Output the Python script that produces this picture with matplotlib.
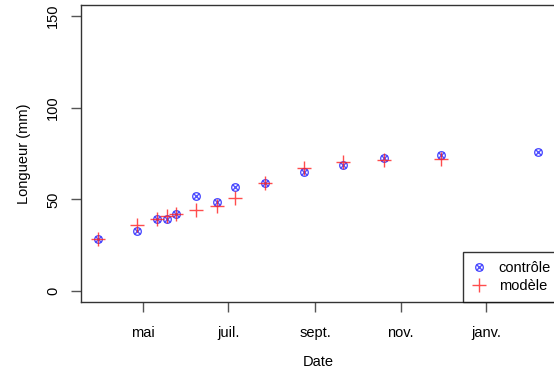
import datetime as dt
import matplotlib
matplotlib.use("Agg")
import matplotlib.pyplot as plt
from matplotlib.legend_handler import HandlerTuple

plt.rcParams['font.family'] = ['Liberation Sans', 'DejaVu Sans']

# dates of the measurements
dates = [dt.date(2021, 3, 30), dt.date(2021, 4, 27), dt.date(2021, 5, 11),
         dt.date(2021, 5, 18), dt.date(2021, 5, 25), dt.date(2021, 6, 8),
         dt.date(2021, 6, 23), dt.date(2021, 7, 6), dt.date(2021, 7, 27),
         dt.date(2021, 8, 24), dt.date(2021, 9, 21), dt.date(2021, 10, 20),
         dt.date(2021, 11, 30), dt.date(2022, 2, 7)]
controle = [28.4, 32.7, 39.1, 39.1, 41.8, 51.8, 48.7, 56.9, 58.7, 65.1,
            68.7, 72.4, 74.2, 76.0]
modele_dates = dates[:13]
modele = [28.2, 36.2, 39.1, 41.0, 42.0, 44.2, 46.4, 50.9, 58.7, 66.9,
          70.5, 71.5, 71.8]

tick_dates = [dt.date(2021, 5, 1), dt.date(2021, 7, 1), dt.date(2021, 9, 1),
              dt.date(2021, 11, 1), dt.date(2022, 1, 1)]
tick_labels = ["mai", "juil.", "sept.", "nov.", "janv."]

fs = 10.5
fig = plt.figure(figsize=(5.54, 3.73), dpi=100)
ax = fig.add_axes([81 / 554, 71 / 373, 474 / 554, 297 / 373])

blue = '#2a2aff'
c_o, = ax.plot(dates, controle, 'o', ms=5.5, mfc='none', mec=blue, mew=1.0, alpha=0.8)
c_x, = ax.plot(dates, controle, 'x', ms=4, color=blue, mew=1.0, alpha=0.8)
m_p, = ax.plot(modele_dates, modele, '+', ms=10, color='#ff2020', mew=1.0, alpha=0.8)

span = dates[-1] - dates[0]
pad = span * 0.04
ax.set_xlim(dates[0] - pad, dates[-1] + pad)
ax.set_ylim(-6, 156)
ax.set_xticks(tick_dates)
ax.set_xticklabels(tick_labels)
ax.set_yticks([0, 50, 100, 150])
for lab in ax.get_yticklabels():
    lab.set_rotation(90)
    lab.set_va('center')
ax.tick_params(direction='out', length=7, width=1, labelsize=fs, pad=10, color='#555555')
ax.tick_params(axis='y', pad=8)
for s in ax.spines.values():
    s.set_linewidth(1)
    s.set_color('#333333')

ax.set_xlabel("Date", fontsize=fs, labelpad=11)
ax.set_ylabel("Longueur (mm)", fontsize=fs, labelpad=11)

leg = ax.legend([(c_o, c_x), m_p], ["contrôle", "modèle"],
                handler_map={tuple: HandlerTuple(ndivide=1)},
                loc='lower left', bbox_to_anchor=((463 - 81) / 474, 0), fontsize=fs,
                frameon=True, fancybox=False, borderaxespad=0, handlelength=1.0,
                handletextpad=0.85, labelspacing=0.3, borderpad=0.6)
leg.get_frame().set_edgecolor('black')
leg.get_frame().set_linewidth(1)

fig.savefig("out.png", dpi=100)
